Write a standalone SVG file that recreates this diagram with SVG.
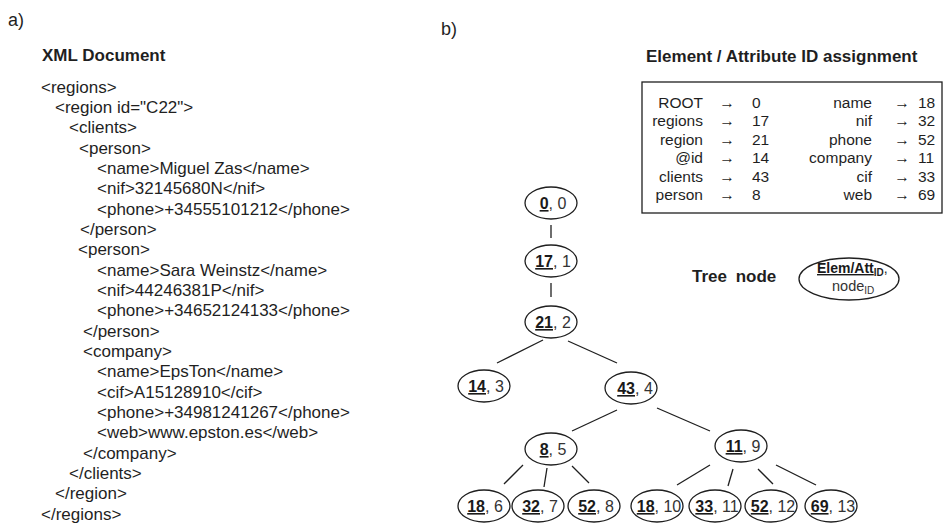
<svg xmlns="http://www.w3.org/2000/svg" width="948" height="532" viewBox="0 0 948 532">
<style>
text{font-family:"Liberation Sans",Arial,sans-serif;fill:#1f1f1f}
.lbl{font-size:18px}
.h{font-size:17px;font-weight:bold}
.x{font-size:17px}
.t{font-size:15.5px}
.tr{font-size:15.5px;text-anchor:end}
.ar{font-size:15.5px;text-anchor:middle}
.n{font-size:16px;text-anchor:middle;fill:#333}
.b{font-weight:bold;text-decoration:underline;fill:#1a1a1a}
ellipse{fill:#fff;stroke:#1f1f1f;stroke-width:1.3}
.c line{stroke:#1f1f1f;stroke-width:1.3}
</style>
<g id="partA">
<text class="lbl" x="8" y="26">a)</text>
<text class="h" x="42" y="61">XML Document</text>
<text class="x" x="41" y="92.5">&lt;regions&gt;</text>
<text class="x" x="55" y="112.8">&lt;region id="C22"&gt;</text>
<text class="x" x="69" y="133.2">&lt;clients&gt;</text>
<text class="x" x="79" y="153.5">&lt;person&gt;</text>
<text class="x" x="97" y="173.8">&lt;name&gt;Miguel Zas&lt;/name&gt;</text>
<text class="x" x="97" y="194.2">&lt;nif&gt;32145680N&lt;/nif&gt;</text>
<text class="x" x="97" y="214.5">&lt;phone&gt;+34555101212&lt;/phone&gt;</text>
<text class="x" x="80" y="234.8">&lt;/person&gt;</text>
<text class="x" x="78" y="255.1">&lt;person&gt;</text>
<text class="x" x="97" y="275.5">&lt;name&gt;Sara Weinstz&lt;/name&gt;</text>
<text class="x" x="97" y="295.8">&lt;nif&gt;44246381P&lt;/nif&gt;</text>
<text class="x" x="97" y="316.1">&lt;phone&gt;+34652124133&lt;/phone&gt;</text>
<text class="x" x="83" y="336.5">&lt;/person&gt;</text>
<text class="x" x="83" y="356.8">&lt;company&gt;</text>
<text class="x" x="97" y="377.1">&lt;name&gt;EpsTon&lt;/name&gt;</text>
<text class="x" x="97" y="397.5">&lt;cif&gt;A15128910&lt;/cif&gt;</text>
<text class="x" x="97" y="417.8">&lt;phone&gt;+34981241267&lt;/phone&gt;</text>
<text class="x" x="97" y="438.1">&lt;web&gt;www.epston.es&lt;/web&gt;</text>
<text class="x" x="83" y="458.5">&lt;/company&gt;</text>
<text class="x" x="69" y="478.8">&lt;/clients&gt;</text>
<text class="x" x="55" y="499.1">&lt;/region&gt;</text>
<text class="x" x="41" y="519.5">&lt;/regions&gt;</text>
</g>
<text class="lbl" x="441" y="35">b)</text>
<g id="idtable">
<text class="h" x="646" y="62">Element / Attribute ID assignment</text>
<rect x="642" y="82" width="300" height="131" fill="none" stroke="#1f1f1f" stroke-width="1.3"/>
<text class="tr" x="703" y="107.5">ROOT</text><text class="ar" x="727" y="107.5">→</text><text class="t" x="752" y="107.5">0</text>
<text class="tr" x="703" y="126">regions</text><text class="ar" x="727" y="126">→</text><text class="t" x="752" y="126">17</text>
<text class="tr" x="703" y="144.5">region</text><text class="ar" x="727" y="144.5">→</text><text class="t" x="752" y="144.5">21</text>
<text class="tr" x="703" y="163">@id</text><text class="ar" x="727" y="163">→</text><text class="t" x="752" y="163">14</text>
<text class="tr" x="703" y="181.5">clients</text><text class="ar" x="727" y="181.5">→</text><text class="t" x="752" y="181.5">43</text>
<text class="tr" x="703" y="200">person</text><text class="ar" x="727" y="200">→</text><text class="t" x="752" y="200">8</text>
<text class="tr" x="872" y="107.5">name</text><text class="ar" x="902" y="107.5">→</text><text class="t" x="918" y="107.5">18</text>
<text class="tr" x="872" y="126">nif</text><text class="ar" x="902" y="126">→</text><text class="t" x="918" y="126">32</text>
<text class="tr" x="872" y="144.5">phone</text><text class="ar" x="902" y="144.5">→</text><text class="t" x="918" y="144.5">52</text>
<text class="tr" x="872" y="163">company</text><text class="ar" x="902" y="163">→</text><text class="t" x="918" y="163">11</text>
<text class="tr" x="872" y="181.5">cif</text><text class="ar" x="902" y="181.5">→</text><text class="t" x="918" y="181.5">33</text>
<text class="tr" x="872" y="200">web</text><text class="ar" x="902" y="200">→</text><text class="t" x="918" y="200">69</text>
</g>
<g id="legend">
<text class="h" x="692" y="282" style="word-spacing:4px">Tree node</text>
<ellipse cx="849" cy="279" rx="50" ry="21"/>
<text x="817" y="273" style="font-size:14px"><tspan class="b">Elem/Att</tspan><tspan style="font-size:10px;font-weight:bold" dy="3">ID</tspan><tspan dy="-3">,</tspan></text>
<text x="832" y="291" style="font-size:14.5px;fill:#333">node<tspan style="font-size:10px" dy="3">ID</tspan></text>
</g>
<g class="c" id="connectors">
<line x1="551" y1="225" x2="551" y2="238"/>
<line x1="551" y1="283" x2="551" y2="297"/>
<line x1="543" y1="340" x2="497" y2="363"/>
<line x1="568" y1="341" x2="617" y2="363"/>
<line x1="617" y1="410" x2="572" y2="431"/>
<line x1="657" y1="408" x2="710" y2="431"/>
<line x1="523" y1="465" x2="504" y2="484"/>
<line x1="547" y1="468" x2="544" y2="487"/>
<line x1="572" y1="466" x2="589" y2="483"/>
<line x1="710" y1="465" x2="677" y2="485"/>
<line x1="733" y1="469" x2="728" y2="486"/>
<line x1="758" y1="469" x2="773" y2="484"/>
<line x1="776" y1="465" x2="816" y2="485"/>
</g>
<g id="n0"><ellipse cx="551" cy="203" rx="26" ry="16"/><text class="n" x="553" y="209"><tspan class="b">0</tspan>, 0</text></g>
<g id="n1"><ellipse cx="551" cy="261" rx="26" ry="16"/><text class="n" x="553" y="267"><tspan class="b">17</tspan>, 1</text></g>
<g id="n2"><ellipse cx="551" cy="322" rx="26" ry="16"/><text class="n" x="553" y="328"><tspan class="b">21</tspan>, 2</text></g>
<g id="n3"><ellipse cx="484" cy="386" rx="26" ry="16"/><text class="n" x="486" y="392"><tspan class="b">14</tspan>, 3</text></g>
<g id="n4"><ellipse cx="631" cy="388" rx="26" ry="16"/><text class="n" x="635" y="394"><tspan class="b">43</tspan>, 4</text></g>
<g id="n5"><ellipse cx="551" cy="449" rx="26" ry="16"/><text class="n" x="553" y="455"><tspan class="b">8</tspan>, 5</text></g>
<g id="n9"><ellipse cx="741" cy="446" rx="26" ry="16"/><text class="n" x="743" y="452"><tspan class="b">11</tspan>, 9</text></g>
<g id="n6"><ellipse cx="484" cy="506" rx="26" ry="16"/><text class="n" x="485" y="512"><tspan class="b">18</tspan>, 6</text></g>
<g id="n7"><ellipse cx="538" cy="506" rx="26" ry="16"/><text class="n" x="540" y="512"><tspan class="b">32</tspan>, 7</text></g>
<g id="n8"><ellipse cx="594" cy="506" rx="26" ry="16"/><text class="n" x="596" y="512"><tspan class="b">52</tspan>, 8</text></g>
<g id="n10"><ellipse cx="657" cy="506" rx="26" ry="16"/><text class="n" x="659" y="512"><tspan class="b">18</tspan>, 10</text></g>
<g id="n11"><ellipse cx="715" cy="506" rx="26" ry="16"/><text class="n" x="717" y="512"><tspan class="b">33</tspan>, 11</text></g>
<g id="n12"><ellipse cx="771" cy="506" rx="26" ry="16"/><text class="n" x="773" y="512"><tspan class="b">52</tspan>, 12</text></g>
<g id="n13"><ellipse cx="831" cy="506" rx="26" ry="16"/><text class="n" x="833" y="512"><tspan class="b">69</tspan>, 13</text></g>
</svg>
